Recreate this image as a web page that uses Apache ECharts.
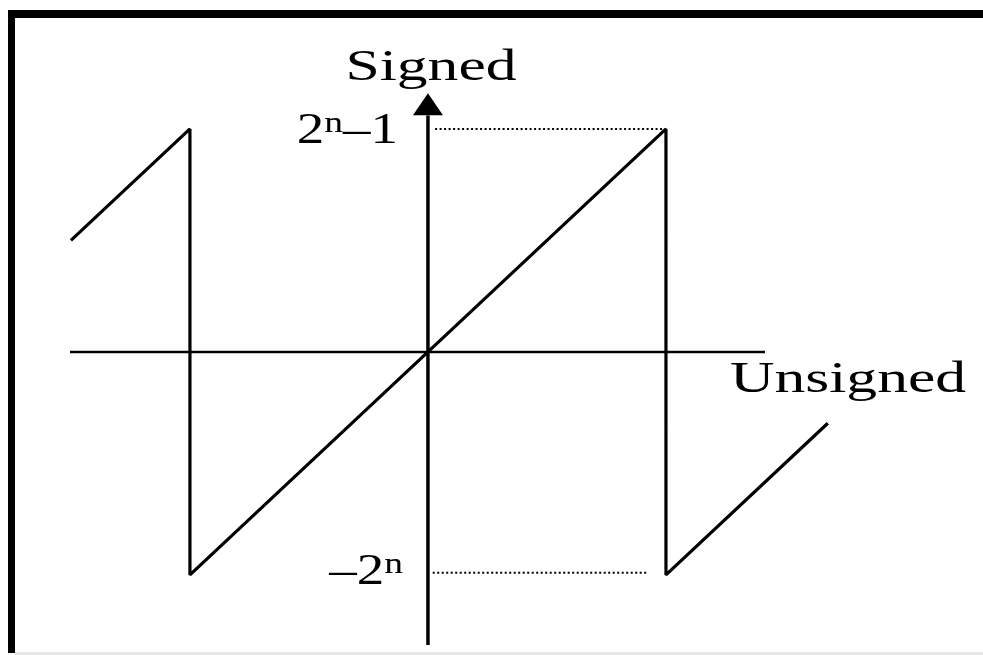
<!DOCTYPE html>
<html>
<head>
<meta charset="utf-8">
<script src="https://cdn.jsdelivr.net/npm/echarts@6/dist/echarts.min.js"></script>
<style>
  html, body { margin: 0; padding: 0; background: #fff; }
  #chart { width: 983px; height: 655px; }
</style>
</head>
<body>
<div id="chart"></div>
<script>
// unsigned (x) vs signed (y), units of 2^n
var sawX = [-1.5, -1, -1, 1, 1, 1.68];
var sawY = [0.5, 1, -1, 1, -1, -0.32];

// axes
var hAxisX = [-1.504, 1.416];
var vAxisY = [-1.314, 1.06];
var arrowY = 1.11;

// dotted guides at 2^n-1 and -2^n
var topGuideX = [0.03, 0.99];
var topGuideY = 1.0;
var botGuideX = [0.02, 0.92];
var botGuideY = -0.99;

var labels = {
  signed: 'Signed',
  unsigned: 'Unsigned',
  max: '{b|2}{s|n}{b|–1}',
  min: '{b|–2}{s|n}'
};

function pairs(xs, ys) {
  return xs.map(function (x, i) { return [x, ys[i]]; });
}

var black = '#000';
var chart = echarts.init(document.getElementById('chart'));

var textStyle = { fontFamily: 'Liberation Serif', fontSize: 44, fill: black };
var richText = {
  b: { fontFamily: 'Liberation Serif', fontSize: 44, lineHeight: 44 },
  s: { fontFamily: 'Liberation Serif', fontSize: 30, lineHeight: 44, verticalAlign: 'top', padding: [0, 0, 0, 0] }
};

var option = {
  backgroundColor: '#fff',
  animation: false,
  grid: { left: 0, right: 0, top: 0, bottom: 0 },
  xAxis: { type: 'value', min: -1.798, max: 2.332, show: false },
  yAxis: { type: 'value', min: -1.359, max: 1.578, show: false },
  series: [
    {
      name: 'mapping', type: 'line', symbol: 'none',
      data: pairs(sawX, sawY),
      lineStyle: { color: black, width: 3.2 }
    },
    {
      name: 'hAxis', type: 'line', symbol: 'none',
      data: [[hAxisX[0], 0], [hAxisX[1], 0]],
      lineStyle: { color: black, width: 2.5 }
    },
    {
      name: 'vAxis', type: 'line', symbol: 'none',
      data: [[0, vAxisY[0]], [0, vAxisY[1]]],
      lineStyle: { color: black, width: 3.5 }
    },
    {
      name: 'arrow', type: 'scatter', symbol: 'triangle', symbolSize: [30, 22],
      data: [[0, arrowY]],
      itemStyle: { color: black, opacity: 1 }
    },
    {
      name: 'topGuide', type: 'line', symbol: 'none',
      data: [[topGuideX[0], topGuideY], [topGuideX[1], topGuideY]],
      lineStyle: { color: black, width: 2, type: [2, 2.5] }
    },
    {
      name: 'botGuide', type: 'line', symbol: 'none',
      data: [[botGuideX[0], botGuideY], [botGuideX[1], botGuideY]],
      lineStyle: { color: black, width: 2, type: [2, 2.5] }
    }
  ],
  graphic: [
    // frame
    { type: 'rect', shape: { x: 8, y: 10, width: 975, height: 8 }, style: { fill: black } },
    { type: 'rect', shape: { x: 8, y: 10, width: 7, height: 643 }, style: { fill: black } },
    { type: 'rect', shape: { x: 15, y: 652, width: 968, height: 3 }, style: { fill: '#e6e6e6' } },
    // labels
    {
      type: 'text', x: 431, y: 68, scaleX: 1.4,
      style: Object.assign({}, textStyle, { text: labels.signed, align: 'center', verticalAlign: 'middle' })
    },
    {
      type: 'text', x: 730, y: 380, scaleX: 1.4, originX: 0,
      style: Object.assign({}, textStyle, { text: labels.unsigned, align: 'left', verticalAlign: 'middle' })
    },
    {
      type: 'text', x: 398, y: 131, scaleX: 1.25, originX: 0,
      style: Object.assign({}, textStyle, { text: labels.max, rich: richText, align: 'right', verticalAlign: 'middle' })
    },
    {
      type: 'text', x: 403, y: 572, scaleX: 1.25, originX: 0,
      style: Object.assign({}, textStyle, { text: labels.min, rich: richText, align: 'right', verticalAlign: 'middle' })
    }
  ]
};

chart.setOption(option);
</script>
</body>
</html>
